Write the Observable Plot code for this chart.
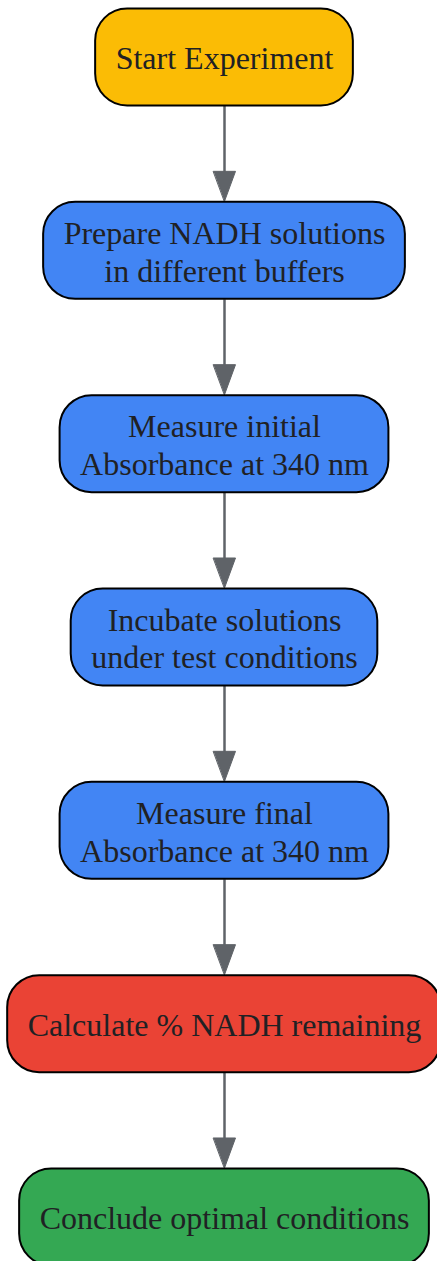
<!DOCTYPE html>
<html><head><meta charset="utf-8">
<script src="https://cdn.jsdelivr.net/npm/d3@7"></script>
<script src="https://cdn.jsdelivr.net/npm/@observablehq/plot@0.6"></script>
<style>body{margin:0;background:#fff}</style>
</head><body><div id="chart"></div>
<script>
// Flowchart content
const steps = [
  "Start Experiment",
  "Prepare NADH solutions\nin different buffers",
  "Measure initial\nAbsorbance at 340 nm",
  "Incubate solutions\nunder test conditions",
  "Measure final\nAbsorbance at 340 nm",
  "Calculate % NADH remaining",
  "Conclude optimal conditions"
];
const kinds = ["start", "process", "process", "process", "process", "calc", "end"];
const kindColors = {start: "#FBBC05", process: "#4285F4", calc: "#EA4335", end: "#34A853"};

// Layout
const W = 437, H = 1261, fontSize = 32;
const ctx = document.createElement("canvas").getContext("2d");
ctx.font = `${fontSize}px "Liberation Serif"`;
const textWidth = s => d3.max(s.split("\n"), l => ctx.measureText(l).width);
const cx = 224, top0 = 57, rank = 193.33, boxH = 97, padX = 20, head = 30, headW = 22;

const nodes = steps.map((label, i) => {
  const w = textWidth(label) + 2 * padX;
  const cy = top0 + i * rank;
  return {label, fill: kindColors[kinds[i]], x1: cx - w / 2, x2: cx + w / 2, y1: cy - boxH / 2, y2: cy + boxH / 2, cx, cy};
});
const edges = d3.pairs(nodes).map(([a, b], i) => ({i, x: a.cx, y1: a.y2, y2: b.y1 - head + 2, tip: b.y1 - 1}));
const heads = edges.flatMap(e => [
  {i: e.i, x: e.x - headW / 2, y: e.tip - head},
  {i: e.i, x: e.x + headW / 2, y: e.tip - head},
  {i: e.i, x: e.x, y: e.tip}
]);

const chart = Plot.plot({
  width: W, height: H, margin: 0,
  x: {domain: [0, W], axis: null},
  y: {domain: [0, H], reverse: true, axis: null},
  color: {type: "identity"},
  marks: [
    Plot.link(edges, {x1: "x", x2: "x", y1: "y1", y2: "y2", stroke: "#5f6368", strokeWidth: 2.5}),
    Plot.line(heads, {x: "x", y: "y", z: "i", fill: "#5f6368", stroke: "#5f6368", strokeWidth: 1, curve: "linear-closed"}),
    Plot.rect(nodes, {x1: "x1", x2: "x2", y1: "y1", y2: "y2", fill: "fill", stroke: "black", strokeWidth: 2, rx: 32, ry: 32}),
    Plot.text(nodes, {x: "cx", y: "cy", text: "label", fontSize: fontSize, fontFamily: "Liberation Serif", lineHeight: 1.17, fill: "#202124", dy: 0})
  ]
});
document.getElementById("chart").append(chart);
</script>
</body></html>
